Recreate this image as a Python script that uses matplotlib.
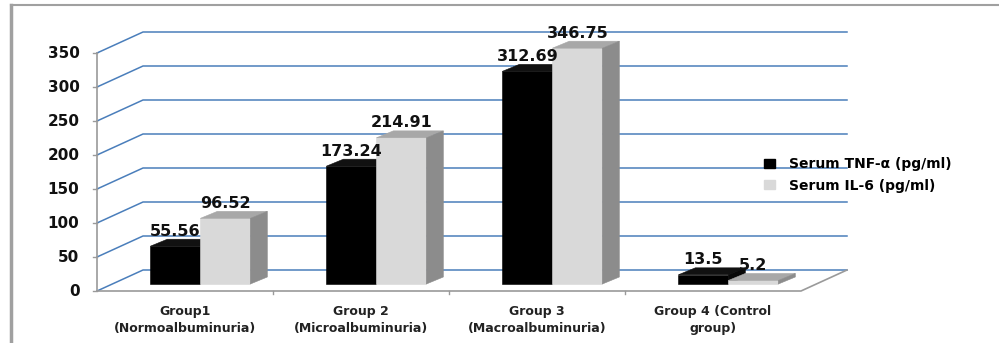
import numpy as np
import matplotlib.pyplot as plt
from matplotlib.patches import Polygon, Patch
from matplotlib.lines import Line2D

groups = ['Group1\n(Normoalbuminuria)', 'Group 2\n(Microalbuminuria)',
          'Group 3\n(Macroalbuminuria)', 'Group 4 (Control\ngroup)']
tnf = [55.56, 173.24, 312.69, 13.5]
il6 = [96.52, 214.91, 346.75, 5.2]
series_names = ['Serum TNF-\u03b1 (pg/ml)', 'Serum IL-6 (pg/ml)']
yticks = np.arange(0, 351, 50)

# pixel geometry of the fake 3D box (figure is 999x343 px)
W, H = 999, 343
PX_CAT = 176.0    # px per category
PX_VAL = 0.68     # px per unit
X0, Y0 = 97, 291  # front origin, px from left / top

DX, DY = 46 / PX_CAT, 21 / PX_VAL          # wall depth
OX, OY = DX / 3, DY / 3                     # bar front offset
BDX, BDY = 17 / PX_CAT, 7 / PX_VAL          # bar depth
BW = 50 / PX_CAT                            # bar width

grid_c = '#4a7ebb'
axis_c = '#9a9a9a'
face = {'front': ['#000000', '#d9d9d9'],
        'top': ['#111111', '#a8a8a8'],
        'side': ['#080808', '#8c8c8c']}

fig = plt.figure(figsize=(W / 100, H / 100), dpi=100)
ax = fig.add_axes([0, 0, 1, 1])
ax.set_xlim(-X0 / PX_CAT, (W - X0) / PX_CAT)
ax.set_ylim(-(H - Y0) / PX_VAL, Y0 / PX_VAL)
ax.axis('off')

n = len(groups)

# walls / gridlines
for v in yticks:
    ax.plot([0, DX, n + DX], [v, v + DY, v + DY], color=grid_c, lw=1.1, zorder=1)
    ax.plot([0, -0.02], [v, v], color=axis_c, lw=1, zorder=2)
    ax.text(-0.1, v, str(v), ha='right', va='center', fontsize=11,
            fontweight='bold', color='#111111')
ax.plot([0, 0], [0, yticks[-1]], color=axis_c, lw=1.2, zorder=2)
ax.plot([0, n, n + DX], [0, 0, DY], color=axis_c, lw=1.2, zorder=2)
for i in range(1, n):
    ax.plot([i, i], [0, -5], color=axis_c, lw=1, zorder=2)

# bars
for i in range(n):
    for s, vals in enumerate([tnf, il6]):
        v = vals[i]
        xl = i + 0.5 + OX - BW + s * BW
        ax.bar(xl, v, width=BW, bottom=OY, align='edge',
               color=face['front'][s], ec=face['front'][s], lw=0.4, zorder=3)
        top = [(xl, OY + v), (xl + BW, OY + v),
               (xl + BW + BDX, OY + v + BDY), (xl + BDX, OY + v + BDY)]
        side = [(xl + BW, OY), (xl + BW + BDX, OY + BDY),
                (xl + BW + BDX, OY + v + BDY), (xl + BW, OY + v)]
        ax.add_patch(Polygon(top, closed=True, fc=face['top'][s],
                             ec=face['top'][s], lw=0.4, zorder=3))
        ax.add_patch(Polygon(side, closed=True, fc=face['side'][s],
                             ec=face['side'][s], lw=0.4, zorder=3))
        ax.text(xl + BW / 2, OY + v + BDY + 1, f'{v:g}', ha='center', va='bottom',
                fontsize=11.5, fontweight='bold', color='#111111', zorder=5)

# category labels
for i, g in enumerate(groups):
    ax.text(i + 0.5, -20, g, ha='center', va='top', fontsize=9,
            fontweight='bold', color='#222222', linespacing=1.4)

handles = [Patch(color=face['front'][0]), Patch(color=face['front'][1])]
fig.legend(handles, series_names, loc='center left', bbox_to_anchor=(0.752, 0.49),
           frameon=False, handlelength=0.8, handleheight=0.6, handletextpad=1.0,
           labelspacing=0.55, prop={'weight': 'bold', 'size': 10})

# outer frame (left and top edges)
fig.add_artist(Line2D([11 / W, 11 / W], [0, 1 - 5 / H], color='#a0a0a0', lw=2.5))
fig.add_artist(Line2D([11 / W, 1], [1 - 5 / H, 1 - 5 / H], color='#a0a0a0', lw=1.5))

fig.savefig('out.png', dpi=100)
